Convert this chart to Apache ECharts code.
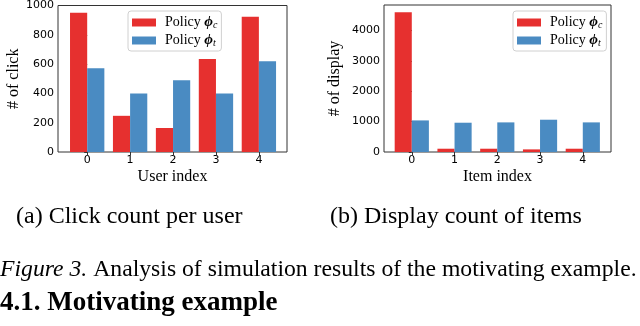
<!DOCTYPE html>
<html>
<head>
<meta charset="utf-8">
<script src="https://cdn.jsdelivr.net/npm/echarts@6/dist/echarts.min.js"></script>
<style>html,body{margin:0;padding:0;background:#fff;}#c{width:640px;height:326px;}</style>
</head>
<body>
<div id="c"></div>
<script>
const categories = [0, 1, 2, 3, 4];
const clickPolicyC = [950, 247, 164, 634, 923];
const clickPolicyT = [571, 399, 489, 399, 620];
const displayPolicyC = [4605, 108, 108, 86, 108];
const displayPolicyT = [1040, 964, 975, 1063, 975];
const clickTicks = [0, 200, 400, 600, 800, 1000];
const displayTicks = [0, 1000, 2000, 3000, 4000];
const seriesNames = ['Policy ϕc', 'Policy ϕt'];

const RED = '#e6302f', BLUE = '#4a8bc2';
const serif = 'Liberation Serif';
const sans = 'DejaVu Sans';

function pairs(vals){ return categories.map((c,i)=>[c, vals[i]]); }

const legendRich = {
  p: {fontFamily: serif, fontSize: 14, color: '#000'},
  phi: {fontFamily: serif, fontSize: 15, fontStyle: 'italic', fontWeight: 'bold', color: '#000'},
  sub: {fontFamily: serif, fontSize: 10, fontStyle: 'italic', color: '#000', padding: [5, 0, 0, 0]}
};
function legendFmt(name){
  const s = name.slice(-1);
  return '{p|Policy }{phi|ϕ}{sub|' + s + '}';
}
function legend(left){
  return {
    orient: 'vertical', left: left, top: 11,
    itemWidth: 24, itemHeight: 8, itemGap: 3,
    padding: [4, 4, 3, 4],
    borderColor: '#d0d0d0', borderWidth: 1, borderRadius: 3,
    icon: 'rect',
    formatter: legendFmt,
    textStyle: {rich: legendRich, padding: [0, 0, 0, 4]},
    data: seriesNames
  };
}
function plain(v){ return String(v); }
function xAxis(gi, min, max, name){
  return {
    type: 'value', gridIndex: gi, min: min, max: max,
    name: name, nameLocation: 'middle', nameGap: 17,
    nameTextStyle: {fontFamily: serif, fontSize: 16, color: '#000'},
    axisLine: {show: false},
    splitLine: {show: false},
    axisTick: {show: true, length: 3, lineStyle: {color: '#333'}, customValues: categories},
    axisLabel: {fontFamily: sans, fontSize: 11, color: '#000', margin: 3, customValues: categories, formatter: plain}
  };
}
function yAxis(gi, max, ticks, name, gap){
  return {
    type: 'value', gridIndex: gi, min: 0, max: max,
    name: name, nameLocation: 'middle', nameGap: gap,
    nameTextStyle: {fontFamily: serif, fontSize: 16, color: '#000'},
    axisLine: {show: false},
    splitLine: {show: false},
    axisTick: {show: true, length: 3, lineStyle: {color: '#333'}, customValues: ticks},
    axisLabel: {fontFamily: sans, fontSize: 11, color: '#000', margin: 4, customValues: ticks, formatter: plain}
  };
}
function bar(name, color, data, gi){
  return {
    type: 'bar', name: name, xAxisIndex: gi, yAxisIndex: gi,
    data: pairs(data), barWidth: '40%', barGap: '0%',
    itemStyle: {color: color}, animation: false
  };
}

const chart = echarts.init(document.getElementById('c'), null, {renderer: 'canvas'});
chart.setOption({
  animation: false,
  color: [RED, BLUE],
  grid: [
    {left: 58, top: 5, width: 229, height: 147, show: true, borderColor: '#333', borderWidth: 1, backgroundColor: 'transparent'},
    {left: 384, top: 5, width: 227, height: 147, show: true, borderColor: '#333', borderWidth: 1, backgroundColor: 'transparent'}
  ],
  legend: [legend(128), legend(513)],
  xAxis: [xAxis(0, -0.68, 4.655, 'User index'), xAxis(1, -0.65, 4.66, 'Item index')],
  yAxis: [yAxis(0, 1000, clickTicks, '# of click', 36), yAxis(1, 4840, displayTicks, '# of display', 41)],
  series: [
    bar(seriesNames[0], RED, clickPolicyC, 0),
    bar(seriesNames[1], BLUE, clickPolicyT, 0),
    bar(seriesNames[0], RED, displayPolicyC, 1),
    bar(seriesNames[1], BLUE, displayPolicyT, 1)
  ],
  title: [
    {text: '(a) Click count per user', left: 16, top: 205,
     textStyle: {fontFamily: serif, fontSize: 24, fontWeight: 'normal', color: '#000'}, padding: 0},
    {text: '(b) Display count of items', left: 330, top: 205,
     textStyle: {fontFamily: serif, fontSize: 24, fontWeight: 'normal', color: '#000'}, padding: 0},
    {text: '{i|Figure 3.} Analysis of simulation results of the motivating example.', left: 0, top: 258,
     textStyle: {fontFamily: serif, fontSize: 23.7, fontWeight: 'normal', color: '#000',
       rich: {i: {fontFamily: serif, fontSize: 23.7, fontStyle: 'italic', color: '#000'}}}, padding: 0},
    {text: '4.1. Motivating example', left: 0, top: 290,
     textStyle: {fontFamily: serif, fontSize: 27, fontWeight: 'bold', color: '#000'}, padding: 0}
  ]
});
</script>
</body>
</html>
